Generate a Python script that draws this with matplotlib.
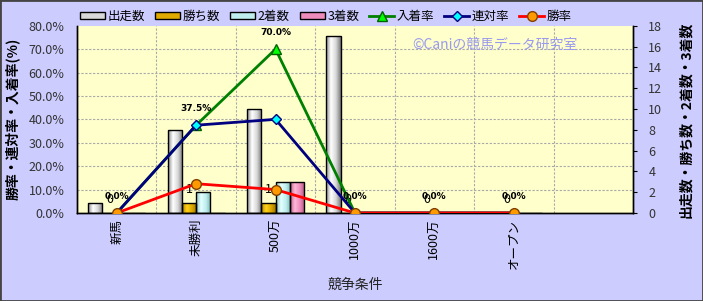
import numpy as np
import matplotlib
matplotlib.use("Agg")
import matplotlib.pyplot as plt
from matplotlib.colors import LinearSegmentedColormap
from matplotlib.patches import Rectangle, Patch

plt.rcParams['font.family'] = ['Noto Sans CJK JP', 'DejaVu Sans']

# data
categories = ['新馬', '未勝利', '500万', '1000万', '1600万', 'オープン']
starts = [1, 8, 10, 17, 0, 0]
wins = [0, 1, 1, 0, 0, 0]
seconds = [0, 2, 3, 0, 0, 0]
thirds = [0, 0, 3, 0, 0, 0]
place_rate = [0.0, 37.5, 70.0, 0.0, 0.0, 0.0]
rentai_rate = [0.0, 37.5, 40.0, 0.0, 0.0, 0.0]
win_rate = [0.0, 12.5, 10.0, 0.0, 0.0, 0.0]

rate_ticks = [0, 10, 20, 30, 40, 50, 60, 70, 80]
count_ticks = [0, 2, 4, 6, 8, 10, 12, 14, 16, 18]
n_slots = 7

fig = plt.figure(figsize=(7.03, 3.01), dpi=100)
fig.patch.set_facecolor('#ccccff')

ax = fig.add_axes([0.1095, 0.2924, 0.7909, 0.6222])
ax2 = ax.twinx()
ax.set_zorder(ax2.get_zorder() + 1)
ax.patch.set_visible(False)
ax2.patch.set_visible(True)
ax2.set_facecolor('#ffffcc')

x = np.arange(len(categories))
bw = 0.18

bar_sets = [
    ('出走数', starts, ['#8c8c8c', '#ffffff', '#d8d8d8', '#7a7a7a']),
    ('勝ち数', wins, ['#b08400', '#ffd21a', '#e0aa00', '#a07800']),
    ('2着数', seconds, ['#88c4c4', '#e6ffff', '#bfeeee', '#80b8b8']),
    ('3着数', thirds, ['#c0608c', '#ffb8d8', '#ee8cbc', '#b05882']),
]

legend_handles = []
for k, (name, vals, cols) in enumerate(bar_sets):
    cmap = LinearSegmentedColormap.from_list(name, cols)
    grad = np.linspace(0, 1, 64).reshape(1, -1)
    offs = (k - 1.5) * bw
    bars = ax2.bar(x + offs, vals, width=bw, facecolor='none',
                   edgecolor='black', linewidth=1.0, zorder=3)
    for b in bars:
        if b.get_height() <= 0:
            continue
        im = ax2.imshow(grad, cmap=cmap, aspect='auto', zorder=2,
                        extent=[b.get_x(), b.get_x() + b.get_width(),
                                0, b.get_height()])
        im.set_clip_path(b)
    legend_handles.append(Patch(facecolor=cols[2], edgecolor='black',
                                linewidth=1.0, label=name))

# win count labels above their bars
for i in range(len(categories)):
    ax2.annotate(str(wins[i]), (x[i] - 0.5 * bw, wins[i]),
                 textcoords='offset points', xytext=(0, 9.5),
                 ha='center', va='center', fontsize=9, color='black',
                 zorder=6)

ax2.set_ylim(0, count_ticks[-1])
ax2.set_xlim(-0.5, n_slots - 0.5)
ax2.set_yticks(count_ticks)

# grid (behind bars)
for t in rate_ticks[1:-1]:
    ax2.axhline(t * count_ticks[-1] / rate_ticks[-1], color='#a8a8a8',
                linestyle=(0, (2, 1.5)), linewidth=0.8, zorder=1)
for b in np.arange(0.5, n_slots - 0.5, 1):
    ax2.axvline(b, color='#a8a8a8', linestyle=(0, (2, 1.5)),
                linewidth=0.8, zorder=1)

# rate lines
l1, = ax.plot(x, place_rate, color='#008000', linewidth=2.0, marker='^',
              markersize=7, markerfacecolor='#00ff00',
              markeredgecolor='#006000', zorder=4, label='入着率')
l2, = ax.plot(x, rentai_rate, color='#000080', linewidth=2.0, marker='D',
              markersize=5, markerfacecolor='#00ffff',
              markeredgecolor='#000080', zorder=5, label='連対率')
l3, = ax.plot(x, win_rate, color='#ff0000', linewidth=2.0, marker='o',
              markersize=7, markerfacecolor='#ff9900',
              markeredgecolor='#804000', zorder=6, label='勝率')

for i in range(len(categories)):
    ax.annotate('{:.1f}%'.format(place_rate[i]), (x[i], place_rate[i]),
                textcoords='offset points', xytext=(0, 12),
                ha='center', va='center', fontsize=6.5,
                fontweight='bold', color='black', zorder=7,
                family='DejaVu Sans')

ax.set_ylim(0, rate_ticks[-1])
ax.set_xlim(-0.5, n_slots - 0.5)
ax.set_yticks(rate_ticks)
ax.set_yticklabels(['{:.1f}%'.format(t) for t in rate_ticks])
ax.set_xticks(x)
ax.set_xticklabels(categories, rotation=90, fontsize=9)
ax.tick_params(axis='x', length=0, pad=4)
ax.tick_params(axis='y', length=0, labelsize=9, labelcolor='#333333', pad=9)
ax2.tick_params(axis='y', length=3, labelsize=9, labelcolor='#333333', pad=8)

for a in (ax, ax2):
    a.spines['top'].set_visible(False)
    for s in ('left', 'right', 'bottom'):
        a.spines[s].set_color('black')
        a.spines[s].set_linewidth(1.0)

ax.set_ylabel('勝率・連対率・入着率(%)', fontsize=10, fontweight='bold',
              labelpad=6)
ax2.set_ylabel('出走数・勝ち数・2着数・3着数', fontsize=10,
               fontweight='bold', labelpad=12)
fig.text(0.505, 0.053, '競争条件', ha='center', va='center', fontsize=10,
         color='#222222')

ax.text(0.752, 0.9, '©Caniの競馬データ研究室', transform=ax.transAxes,
        ha='center', va='center', fontsize=10, color='#9999ee', zorder=8)

handles = legend_handles + [l1, l2, l3]
fig.legend(handles, [h.get_label() for h in handles], loc='center',
           bbox_to_anchor=(0.464, 0.945), ncol=7, frameon=False,
           fontsize=9, handlelength=2.0, handleheight=0.55,
           columnspacing=0.8, handletextpad=0.2)

fig.add_artist(Rectangle((0, 0), 1, 1, transform=fig.transFigure,
                         fill=False, edgecolor='#444444', linewidth=2))

fig.savefig('out.png', dpi=100, facecolor=fig.get_facecolor())
